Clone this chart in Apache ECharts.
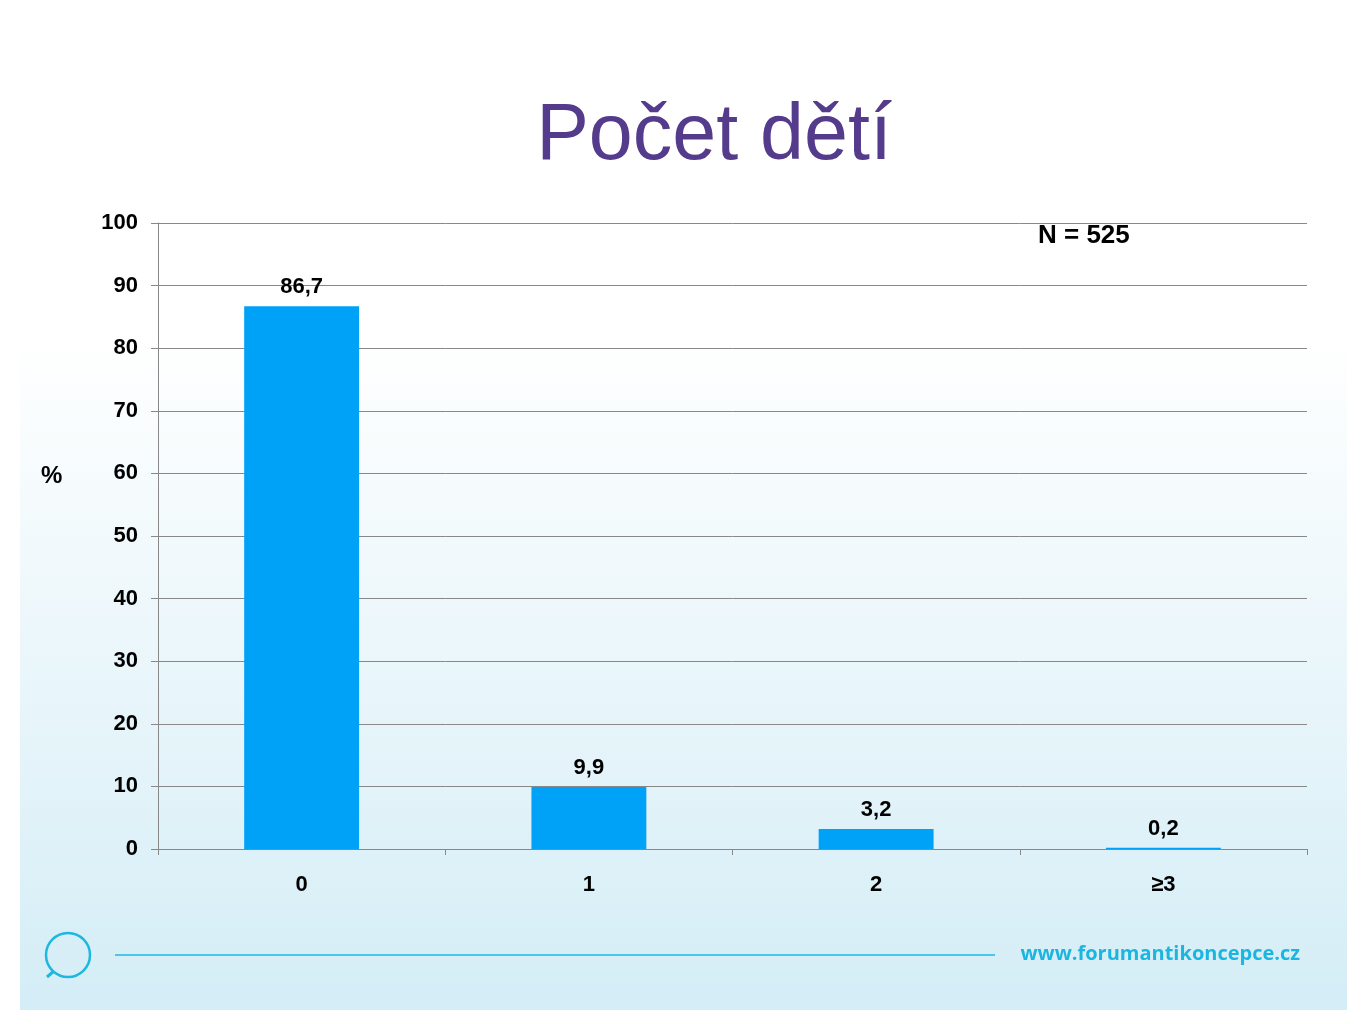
<!DOCTYPE html>
<html>
<head>
<meta charset="utf-8">
<script src="https://cdn.jsdelivr.net/npm/echarts@6/dist/echarts.min.js"></script>
<style>
html, body { margin: 0; padding: 0; background: #fff; }
#main { width: 1365px; height: 1024px; }
</style>
</head>
<body>
<div id="main"></div>
<script>
var chartDom = document.getElementById('main');
var myChart = echarts.init(chartDom);

// data
var categories = ['0', '1', '2', '≥3'];
var values = [86.7, 9.9, 3.2, 0.2];
var yTicks = [0, 10, 20, 30, 40, 50, 60, 70, 80, 90, 100];

var option = {
    animation: false,
    backgroundColor: '#ffffff',
    title: {
        text: 'Počet dětí',
        left: 709,
        top: 93,
        textAlign: 'center',
        textStyle: {
            fontFamily: 'Liberation Sans, Arial',
            fontSize: 79,
            fontWeight: 'normal',
            color: '#553b8b'
        }
    },
    graphic: [
        {
            type: 'rect',
            z: -10,
            silent: true,
            shape: { x: 20, y: 0, width: 1327, height: 1010 },
            style: {
                fill: {
                    type: 'linear', x: 0, y: 0, x2: 0, y2: 1,
                    colorStops: [
                        { offset: 0, color: '#ffffff' },
                        { offset: 0.33, color: '#ffffff' },
                        { offset: 1, color: '#d4edf6' }
                    ]
                }
            }
        },
        {
            type: 'circle',
            silent: true,
            shape: { cx: 68, cy: 955, r: 22 },
            style: { fill: 'none', stroke: '#1cb8e0', lineWidth: 2.5 }
        },
        {
            type: 'line',
            silent: true,
            shape: { x1: 54, y1: 971, x2: 47, y2: 977 },
            style: { stroke: '#1cb8e0', lineWidth: 3 }
        },
        {
            type: 'line',
            silent: true,
            shape: { x1: 115, y1: 955, x2: 995, y2: 955 },
            style: { stroke: '#1cb8e0', lineWidth: 1.5 }
        },
        {
            type: 'text',
            silent: true,
            right: 65,
            top: 944,
            style: {
                text: 'www.forumantikoncepce.cz',
                fontFamily: 'Open Sans, Liberation Sans',
                fontSize: 20,
                fontWeight: 'bold',
                fill: '#1cb5e0'
            }
        },
        {
            type: 'text',
            silent: true,
            left: 1038,
            top: 223,
            style: {
                text: 'N = 525',
                fontFamily: 'Liberation Sans, Arial',
                fontSize: 26,
                fontWeight: 'bold',
                fill: '#000'
            }
        },
        {
            type: 'text',
            silent: true,
            left: 41,
            top: 464,
            style: {
                text: '%',
                fontFamily: 'Liberation Sans, Arial',
                fontSize: 24,
                fontWeight: 'bold',
                fill: '#000'
            }
        }
    ],
    grid: {
        left: 158,
        right: 58,
        top: 223,
        bottom: 175,
        containLabel: false
    },
    xAxis: {
        type: 'category',
        data: categories,
        z: 3,
        axisLine: { show: true, lineStyle: { color: '#888888', width: 1 } },
        axisTick: { show: true, length: 6, lineStyle: { color: '#888888' } },
        axisLabel: {
            margin: 25,
            color: '#000',
            fontFamily: 'Liberation Sans, Arial',
            fontSize: 22,
            fontWeight: 'bold'
        }
    },
    yAxis: {
        type: 'value',
        min: yTicks[0],
        max: yTicks[yTicks.length - 1],
        interval: 10,
        axisLine: { show: true, lineStyle: { color: '#888888', width: 1 } },
        axisTick: { show: true, length: 7, lineStyle: { color: '#888888' } },
        splitLine: { show: true, lineStyle: { color: '#888888', width: 1 } },
        axisLabel: {
            margin: 20,
            color: '#000',
            fontFamily: 'Liberation Sans, Arial',
            fontSize: 22,
            fontWeight: 'bold'
        }
    },
    series: [
        {
            type: 'bar',
            data: values,
            barWidth: '40%',
            itemStyle: { color: '#00a2f8' },
            label: {
                show: true,
                position: 'top',
                distance: 8,
                color: '#000',
                fontFamily: 'Liberation Sans, Arial',
                fontSize: 22,
                fontWeight: 'bold',
                formatter: function (p) {
                    return String(p.value).replace('.', ',');
                }
            }
        }
    ]
};

myChart.setOption(option);
window.addEventListener('resize', function () {
    myChart.resize();
});
</script>
</body>
</html>
